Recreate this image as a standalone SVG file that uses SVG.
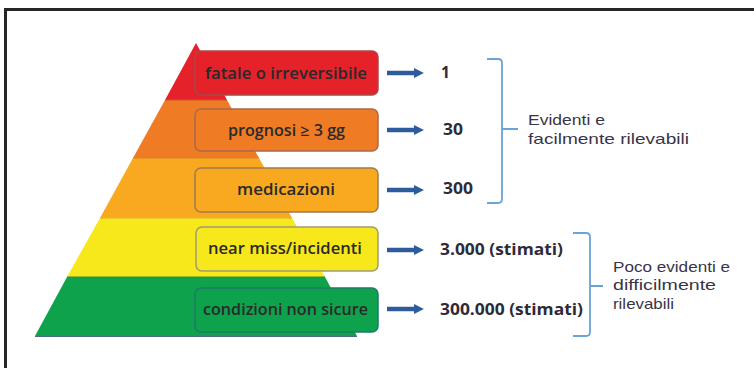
<svg xmlns="http://www.w3.org/2000/svg" width="754" height="368" viewBox="0 0 754 368">
<defs>
<style>
.lbl{font-family:"Open Sans","DejaVu Sans",sans-serif;font-size:15.5px;font-weight:600;fill:#2a2a2a}
.num{font-family:"Open Sans","DejaVu Sans",sans-serif;font-size:15.5px;font-weight:700;fill:#2e2a3a}
.side{font-family:"Liberation Sans",Arial,sans-serif;font-size:15px;fill:#3a3448}
.box{stroke-width:1.5}
.arr{stroke:#2d5c9c;stroke-width:4.5;fill:none}
.brk{stroke:#6aa3d6;stroke-width:1.8;fill:none}
</style>
<marker id="ah" viewBox="0 0 10 10" refX="2" refY="5" markerWidth="2.2" markerHeight="2.2" orient="auto" markerUnits="strokeWidth">
<path d="M0,0 L10,5 L0,10 z" fill="#2d5c9c"/>
</marker>
</defs>
<rect width="754" height="368" fill="#ffffff"/>
<path d="M5.5,368 V9.5 H754" fill="none" stroke="#262626" stroke-width="3"/>

<g id="pyramid">
<polygon points="35,336 357,336 325,277 67,277" fill="#0ea24c"/>
<polygon points="67,277 325,277 292,218 100,218" fill="#f6e81a"/>
<polygon points="100,218 292,218 259,158 133,158" fill="#f8a91f"/>
<polygon points="133,158 259,158 227,100 165,100" fill="#ef7b24"/>
<polygon points="165,100 227,100 196,43" fill="#e5212a"/>
<line x1="67" y1="277" x2="325" y2="277" stroke="#3e8a3a" stroke-width="1"/>
<line x1="100" y1="218" x2="292" y2="218" stroke="#d8b23a" stroke-width="1"/>
<line x1="133" y1="158" x2="259" y2="158" stroke="#d9852a" stroke-width="1"/>
<line x1="165" y1="100" x2="227" y2="100" stroke="#c9552a" stroke-width="1"/>
<line x1="35" y1="336.5" x2="357" y2="336.5" stroke="#4a6a8a" stroke-width="1"/>
</g>

<g id="n1">
<rect class="box" x="195" y="51" width="183" height="44" rx="6" fill="#e5212a" stroke="#a8484a"/>
<text class="lbl" x="205" y="79" textLength="162" lengthAdjust="spacingAndGlyphs">fatale o irreversibile</text>
</g>
<g id="n2">
<rect class="box" x="195" y="109" width="183" height="42" rx="6" fill="#ef7b24" stroke="#a86a4a"/>
<text class="lbl" x="228" y="136" textLength="117" lengthAdjust="spacingAndGlyphs">prognosi ≥ 3 gg</text>
</g>
<g id="n3">
<rect class="box" x="195" y="168" width="183" height="44" rx="6" fill="#f8a91f" stroke="#a07a50"/>
<text class="lbl" x="237" y="195" textLength="98" lengthAdjust="spacingAndGlyphs">medicazioni</text>
</g>
<g id="n4">
<rect class="box" x="196" y="227" width="182" height="44" rx="6" fill="#f6e81a" stroke="#a09a70"/>
<text class="lbl" x="208" y="254" textLength="154" lengthAdjust="spacingAndGlyphs">near miss/incidenti</text>
</g>
<g id="n5">
<rect class="box" x="195" y="288" width="183" height="44" rx="6" fill="#0ea24c" stroke="#1f7a6a"/>
<text class="lbl" x="203" y="315" textLength="165" lengthAdjust="spacingAndGlyphs">condizioni non sicure</text>
</g>

<g id="connectors">
<line class="arr" x1="387" y1="73" x2="416" y2="73" marker-end="url(#ah)"/>
<line class="arr" x1="387" y1="130" x2="416" y2="130" marker-end="url(#ah)"/>
<line class="arr" x1="387" y1="190" x2="416" y2="190" marker-end="url(#ah)"/>
<line class="arr" x1="387" y1="250" x2="416" y2="250" marker-end="url(#ah)"/>
<line class="arr" x1="387" y1="309" x2="416" y2="309" marker-end="url(#ah)"/>
</g>

<g id="values">
<text class="num" x="441" y="78">1</text>
<text class="num" x="443" y="135" textLength="20" lengthAdjust="spacingAndGlyphs">30</text>
<text class="num" x="443" y="194" textLength="30" lengthAdjust="spacingAndGlyphs">300</text>
<text class="num" x="440" y="255" textLength="123" lengthAdjust="spacingAndGlyphs">3.000 (stimati)</text>
<text class="num" x="440" y="315" textLength="143" lengthAdjust="spacingAndGlyphs">300.000 (stimati)</text>
</g>

<g id="group1">
<path class="brk" d="M487,59 H498 Q502,59 502,63 V199 Q502,203 498,203 H487 M502,129 H518"/>
<text class="side" x="528" y="125" textLength="77" lengthAdjust="spacingAndGlyphs">Evidenti e</text>
<text class="side" x="528" y="144" textLength="161" lengthAdjust="spacingAndGlyphs">facilmente rilevabili</text>
</g>
<g id="group2">
<path class="brk" d="M573,233 H586 Q590,233 590,237 V332 Q590,336 586,336 H573 M590,286 H603"/>
<text class="side" x="613" y="272" textLength="117" lengthAdjust="spacingAndGlyphs">Poco evidenti e</text>
<text class="side" x="613" y="290" textLength="103" lengthAdjust="spacingAndGlyphs">difficilmente</text>
<text class="side" x="613" y="309" textLength="61" lengthAdjust="spacingAndGlyphs">rilevabili</text>
</g>
</svg>
